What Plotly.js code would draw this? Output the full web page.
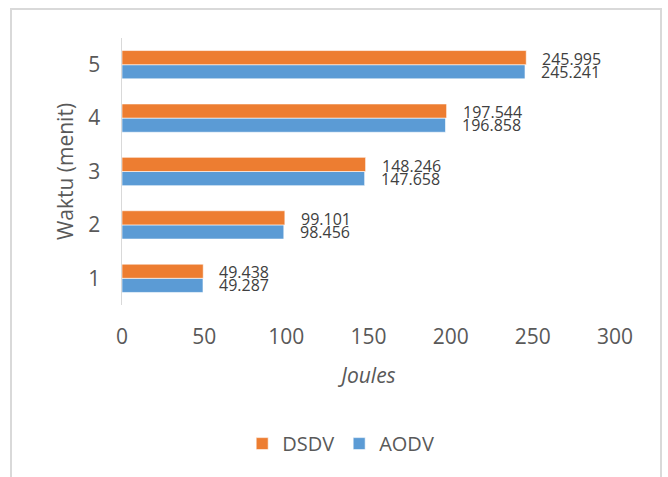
<!DOCTYPE html>
<html>
<head>
<meta charset="utf-8">
<script src="https://cdn.plot.ly/plotly-3.0.1.min.js"></script>
<style>
html,body{margin:0;padding:0;background:#fff;}
#chart{width:668px;height:477px;}
</style>
</head>
<body>
<div id="chart"></div>
<script>
const categories = [1, 2, 3, 4, 5];
const dsdv = [49.438, 99.101, 148.246, 197.544, 245.995];
const aodv = [49.287, 98.456, 147.658, 196.858, 245.241];
const xTicks = [0, 50, 100, 150, 200, 250, 300];

const FONT = "Open Sans, Liberation Sans, sans-serif";
const ORANGE = "#ED7D31", BLUE = "#5B9BD5";

const traces = [
  {type:'bar', orientation:'h', name:'AODV', y:categories, x:aodv,
   marker:{color:BLUE, line:{color:'#ffffff', width:0.6}}, hoverinfo:'x'},
  {type:'bar', orientation:'h', name:'DSDV', y:categories, x:dsdv,
   marker:{color:ORANGE, line:{color:'#ffffff', width:0.6}}, hoverinfo:'x'}
];

const annotations = [];
categories.forEach((c, i) => {
  annotations.push({x:dsdv[i], y:c, xref:'x', yref:'y', text:dsdv[i].toFixed(3),
    showarrow:false, xanchor:'left', yanchor:'middle', xshift:15, yshift:6, borderpad:0,
    font:{family:FONT, size:16, color:'#404040'}});
  annotations.push({x:aodv[i], y:c, xref:'x', yref:'y', text:aodv[i].toFixed(3),
    showarrow:false, xanchor:'left', yanchor:'middle', xshift:15, yshift:-7, borderpad:0,
    font:{family:FONT, size:16, color:'#404040'}});
});

const L = 122, R = 53, T = 38, B = 172;
const pw = 668 - L - R, ph = 477 - T - B;

const layout = {
  width:668, height:477,
  margin:{l:L, r:R, t:T, b:B, pad:0},
  paper_bgcolor:'#ffffff', plot_bgcolor:'#ffffff',
  barmode:'group', bargap:0.47, bargroupgap:0,
  font:{family:FONT, color:'#595959'},
  xaxis:{range:[0,300], tickvals:xTicks, ticktext:xTicks.map(String),
    showgrid:false, zeroline:false, showline:false,
    ticks:'outside', ticklen:13, tickcolor:'rgba(0,0,0,0)',
    tickfont:{family:FONT, size:21, color:'#595959'},
    title:{text:'<i>Joules</i>', standoff:19, font:{family:FONT, size:21, color:'#595959'}},
    fixedrange:true},
  yaxis:{range:[0.5,5.5], tickvals:categories, ticktext:categories.map(String),
    showgrid:false, zeroline:false, showline:true, linecolor:'#d9d9d9', linewidth:1.5,
    ticks:'outside', ticklen:16, tickcolor:'rgba(0,0,0,0)',
    tickfont:{family:FONT, size:21, color:'#595959'},
    title:{text:'Waktu (menit)', standoff:9, font:{family:FONT, size:21, color:'#595959'}},
    fixedrange:true},
  showlegend:true,
  legend:{orientation:'h', traceorder:'reversed', xref:'container', yref:'container',
    x:0.51, xanchor:'center', y:0.07, yanchor:'middle',
    font:{family:FONT, size:20, color:'#595959'}, itemwidth:30},
  annotations:annotations,
  shapes:[{type:'rect', xref:'paper', yref:'paper', layer:'below',
    x0:(11-L)/pw, x1:(661-L)/pw, y0:-2, y1:(477-B-9)/ph,
    line:{color:'#d9d9d9', width:2}, fillcolor:'rgba(0,0,0,0)'}]
};

Plotly.newPlot('chart', traces, layout, {displayModeBar:false, staticPlot:true});
</script>
</body>
</html>
